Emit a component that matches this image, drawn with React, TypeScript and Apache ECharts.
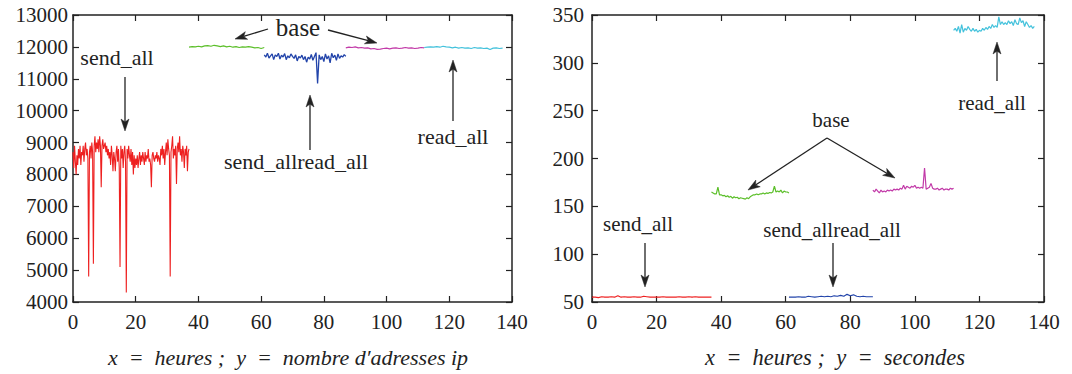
import { useEffect, useRef } from "react";
import * as echarts from "echarts";

// ---- Number of IP addresses per hour (left panel) ----
const ipSendAllStart = 0;
const ipSendAllStep = 0.25;
const ipSendAll = [
  8700, 8200, 8900, 8400, 8000, 8600, 8300, 8800, 8500, 8900,
  8300, 8700, 8600, 8900, 8400, 8800, 9000, 8600, 8800, 8500,
  4800, 8700, 8900, 8500, 9000, 8700, 5200, 8900, 9200, 8700,
  9000, 8800, 9100, 8700, 9200, 8900, 7600, 8900, 9100, 8800,
  8900, 9000, 8700, 8900, 8600, 8800, 8500, 8700, 8300, 8900,
  8600, 8100, 8700, 8500, 8100, 8700, 8900, 8400, 8800, 8200,
  5100, 8900, 8500, 8800, 8200, 8700, 8900, 8400, 4300, 8800,
  8500, 8900, 8600, 8400, 8800, 8300, 8700, 8000, 8600, 8200,
  8500, 8300, 8600, 8200, 8500, 8700, 8300, 8600, 8400, 8700,
  8500, 8300, 8700, 8400, 8600, 8500, 8800, 8400, 8500, 8300,
  7600, 8600, 8700, 8500, 8400, 8600, 8500, 8700, 8400, 8600,
  8500, 8300, 8800, 8600, 8900, 8500, 8800, 8300, 8700, 9000,
  8600, 9100, 8800, 8600, 4800, 8700, 8900, 9200, 8500, 8800,
  8600, 8900, 7700, 8800, 9000, 8700, 9200, 8600, 8800, 8400,
  8900, 8700, 8200, 8800, 8600, 8900, 8100, 8700, 8800,
];

const ipBaseAStart = 37;
const ipBaseAStep = 1;
const ipBaseA = [
  11990, 12010, 12000, 12020, 12000, 12030, 12040, 12020, 12050, 12030,
  12010, 12030, 12000, 12020, 11990, 12010, 11980, 12000, 11990, 12010,
  11990, 11970, 11980, 11950, 11980,
];

const ipSendReadStart = 61;
const ipSendReadStep = 0.5;
const ipSendRead = [
  11750, 11680, 11800, 11650, 11720, 11780, 11600, 11750, 11700, 11800,
  11620, 11740, 11680, 11790, 11600, 11720, 11660, 11780, 11700, 11640,
  11750, 11560, 11700, 11650, 11740, 11600, 11700, 11520, 11680, 11620,
  11760, 11580, 11700, 11820, 10850, 11750, 11600, 11700, 11540, 11780,
  11620, 11720, 11500, 11800, 11660, 11740, 11580, 11780, 11640, 11720,
  11680, 11760, 11700,
];

const ipBaseBStart = 87;
const ipBaseBStep = 1;
const ipBaseB = [
  11970, 11990, 11980, 12000, 11970, 11980, 11960, 11970, 11940, 11950,
  11920, 11930, 11950, 11960, 11940, 11960, 11970, 11950, 11960, 11980,
  11960, 11970, 11950, 11960, 11980, 11970,
];

const ipReadAllStart = 112;
const ipReadAllStep = 1;
const ipReadAll = [
  11980, 11990, 12000, 11990, 12010, 11990, 12020, 12000, 11990, 11970,
  11990, 11960, 11980, 11960, 11970, 11950, 11980, 11960, 11970, 11950,
  11960, 11920, 11960, 11970, 11950, 11960,
];

// ---- Duration in seconds per hour (right panel) ----
const secSendAllStart = 0;
const secSendAllStep = 1;
const secSendAll = [
  55, 55, 54.5, 55.5, 55, 55, 55.5, 55, 56.5, 55,
  55.5, 55, 55, 55.5, 55, 55, 56, 55.5, 55, 55,
  55, 55, 55.5, 55, 55, 55, 55, 55.5, 55, 55,
  55.5, 55, 55.5, 55, 55, 55, 55, 55,
];

const secBaseAStart = 37;
const secBaseAStep = 0.5;
const secBaseA = [
  165, 164, 163, 163, 170, 162, 162, 161, 161.5, 160,
  161, 159.5, 160.5, 158.5, 160, 159, 159.5, 158, 159, 158.5,
  158, 157.5, 159, 158, 160, 161, 162, 162, 163, 162,
  163, 163, 164, 163, 164, 163.5, 164.5, 164, 165, 171,
  165, 166, 165, 167, 164, 166, 165, 165, 164,
];

const secSendReadStart = 61;
const secSendReadStep = 1;
const secSendRead = [
  55, 55, 55, 55.5, 55, 55, 56, 55.5, 55, 55.5,
  56, 55.5, 56, 55.5, 56.5, 56, 57, 56, 58, 56.5,
  57.5, 56, 55.5, 56, 55.5, 55.5, 55.5,
];

const secBaseBStart = 87;
const secBaseBStep = 0.5;
const secBaseB = [
  167, 165, 168, 166, 164, 167, 165, 166, 165, 167,
  166, 167, 166, 168, 167, 168, 167, 169, 168, 172,
  168, 171, 170, 169, 171, 170, 172, 169, 170, 169,
  170, 169, 190, 168, 169, 170, 174, 169, 168, 168,
  169, 167, 168, 169, 167, 168, 168, 167, 169, 168,
  169,
];

const secReadAllStart = 112;
const secReadAllStep = 0.5;
const secReadAll = [
  334, 336, 333, 338, 331, 340, 332, 336, 334, 338,
  335, 333, 336, 333, 335, 332, 334, 333, 336, 334,
  337, 335, 338, 336, 340, 337, 339, 337, 348, 340,
  343, 340, 342, 340, 344, 341, 343, 339, 345, 341,
  340, 347, 342, 344, 338, 343, 340, 337, 339, 336,
  338,
];

const hourTicks = { min: 0, max: 140, interval: 20 };
const ipTicks = { min: 4000, max: 13000, interval: 1000 };
const secTicks = { min: 50, max: 350, interval: 50 };

const COLORS = {
  sendAll: "#ee2020",
  baseA: "#5cbf2a",
  sendRead: "#2244aa",
  baseB: "#c23aa8",
  readAll: "#44c2dc",
};

const SERIF = "Liberation Serif";
const INK = "#222";

function toPoints(start: number, step: number, values: number[]) {
  return values.map((v, i) => [start + i * step, v]);
}

function line(grid: number, color: string, data: number[][], width = 1.2) {
  return {
    type: "line",
    xAxisIndex: grid * 2,
    yAxisIndex: grid * 2,
    data,
    showSymbol: false,
    symbol: "none",
    lineStyle: { color, width },
    itemStyle: { color },
    silent: true,
    clip: true,
  };
}

const plain = (v: number) => String(v);

function xAxes(gridIndex: number) {
  const common = {
    type: "value",
    gridIndex,
    ...hourTicks,
    splitLine: { show: false },
    axisLine: { show: true, onZero: false, lineStyle: { color: INK, width: 1.5 } },
    axisTick: { show: true, inside: true, length: 6, lineStyle: { color: INK, width: 1.2 } },
  };
  return [
    {
      ...common,
      position: "bottom",
      axisLabel: { show: true, color: INK, fontFamily: SERIF, fontSize: 21, margin: 9, formatter: plain },
    },
    { ...common, position: "top", axisLabel: { show: false } },
  ];
}

function yAxes(gridIndex: number, ticks: { min: number; max: number; interval: number }, margin: number) {
  const common = {
    type: "value",
    gridIndex,
    ...ticks,
    splitLine: { show: false },
    axisLine: { show: true, onZero: false, lineStyle: { color: INK, width: 1.5 } },
    axisTick: { show: true, inside: true, length: 6, lineStyle: { color: INK, width: 1.2 } },
  };
  return [
    {
      ...common,
      position: "left",
      axisLabel: { show: true, color: INK, fontFamily: SERIF, fontSize: 21, margin, formatter: plain },
    },
    { ...common, position: "right", axisLabel: { show: false } },
  ];
}

function label(text: string, x: number, y: number, size = 21, italic = false) {
  return {
    type: "text",
    x,
    y,
    silent: true,
    style: {
      text,
      fill: INK,
      fontFamily: SERIF,
      fontSize: size,
      fontStyle: italic ? "italic" : "normal",
      textAlign: "center",
      textVerticalAlign: "middle",
      align: "center",
      verticalAlign: "middle",
    },
  };
}

// Line with a filled, narrow arrowhead at (x2, y2).
function arrow(x1: number, y1: number, x2: number, y2: number) {
  const dx = x2 - x1;
  const dy = y2 - y1;
  const len = Math.hypot(dx, dy);
  const ux = dx / len;
  const uy = dy / len;
  const head = 12;
  const half = 4;
  const bx = x2 - ux * head;
  const by = y2 - uy * head;
  const notchX = x2 - ux * head * 0.75;
  const notchY = y2 - uy * head * 0.75;
  return [
    {
      type: "line",
      silent: true,
      shape: { x1, y1, x2: notchX, y2: notchY },
      style: { stroke: INK, lineWidth: 1.3 },
    },
    {
      type: "polygon",
      silent: true,
      shape: {
        points: [
          [x2, y2],
          [bx - uy * half, by + ux * half],
          [notchX, notchY],
          [bx + uy * half, by - ux * half],
        ],
      },
      style: { fill: INK, stroke: INK, lineWidth: 0.5 },
    },
  ];
}

export default function App() {
  const ref = useRef<HTMLDivElement>(null);

  useEffect(() => {
    if (!ref.current) return;
    const chart = echarts.init(ref.current, undefined, { renderer: "svg" });

    const option = {
      animation: false,
      backgroundColor: "#ffffff",
      textStyle: { fontFamily: SERIF },
      grid: [
        { left: 73, top: 15, width: 439, height: 287, containLabel: false },
        { left: 592, top: 15, width: 452, height: 287, containLabel: false },
      ],
      xAxis: [...xAxes(0), ...xAxes(1)],
      yAxis: [...yAxes(0, ipTicks, 5), ...yAxes(1, secTicks, 8)],
      series: [
        line(0, COLORS.sendAll, toPoints(ipSendAllStart, ipSendAllStep, ipSendAll), 1.1),
        line(0, COLORS.baseA, toPoints(ipBaseAStart, ipBaseAStep, ipBaseA)),
        line(0, COLORS.sendRead, toPoints(ipSendReadStart, ipSendReadStep, ipSendRead), 1.3),
        line(0, COLORS.baseB, toPoints(ipBaseBStart, ipBaseBStep, ipBaseB)),
        line(0, COLORS.readAll, toPoints(ipReadAllStart, ipReadAllStep, ipReadAll)),
        line(1, COLORS.sendAll, toPoints(secSendAllStart, secSendAllStep, secSendAll)),
        line(1, COLORS.baseA, toPoints(secBaseAStart, secBaseAStep, secBaseA)),
        line(1, COLORS.sendRead, toPoints(secSendReadStart, secSendReadStep, secSendRead)),
        line(1, COLORS.baseB, toPoints(secBaseBStart, secBaseBStep, secBaseB)),
        line(1, COLORS.readAll, toPoints(secReadAllStart, secReadAllStep, secReadAll)),
      ],
      graphic: [
        // left panel annotations
        label("send_all", 117, 57, 22),
        ...arrow(125, 77, 125, 131),
        label("base", 298, 27, 25),
        ...arrow(268, 29, 235, 39),
        ...arrow(328, 30, 377, 43),
        label("send_allread_all", 296, 161, 22),
        ...arrow(310, 150, 310, 95),
        label("read_all", 453, 136, 22),
        ...arrow(453, 121, 453, 60),
        // right panel annotations
        label("read_all", 992, 103),
        ...arrow(997, 81, 997, 42),
        label("base", 831, 120),
        ...arrow(827, 138, 748, 190),
        ...arrow(827, 138, 895, 178),
        label("send_all", 638, 224),
        ...arrow(645, 243, 645, 287),
        label("send_allread_all", 832, 230),
        ...arrow(833, 243, 833, 287),
        // panel captions
        label("x  =  heures ;  y  =  nombre d\u2032adresses ip", 288, 357, 22, true),
        label("x  =  heures ;  y  =  secondes", 835, 357, 22.5, true),
      ],
    };

    chart.setOption(option as any);
    return () => chart.dispose();
  }, []);

  return (
    <div
      ref={ref}
      style={{ position: "fixed", left: 0, top: 0, width: 1072, height: 374, background: "#fff" }}
    />
  );
}
